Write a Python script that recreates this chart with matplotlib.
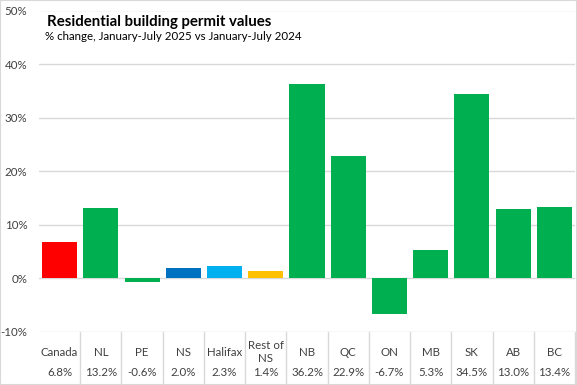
import matplotlib
matplotlib.use("Agg")
import matplotlib.pyplot as plt
from matplotlib import transforms
from matplotlib.lines import Line2D
from matplotlib.patches import Rectangle

plt.rcParams['font.family'] = ['Lato', 'DejaVu Sans']

regions = ["Canada", "NL", "PE", "NS", "Halifax", "Rest of\nNS", "NB", "QC",
           "ON", "MB", "SK", "AB", "BC"]
pct_change = [6.8, 13.2, -0.6, 2.0, 2.3, 1.4, 36.2, 22.9, -6.7, 5.3, 34.5, 13.0, 13.4]
bar_colors = ["#FF0000", "#00B050", "#00B050", "#0070C0", "#00B0F0", "#FFC000",
              "#00B050", "#00B050", "#00B050", "#00B050", "#00B050", "#00B050", "#00B050"]
yticks = [-10, 0, 10, 20, 30, 40, 50]

W, H = 577, 385
fig = plt.figure(figsize=(W / 100, H / 100), dpi=100)
ax = fig.add_axes([39 / W, 1 - 332 / H, (575 - 39) / W, (332 - 10.5) / H])

x = range(len(regions))
ax.bar(x, pct_change, width=0.85, color=bar_colors, zorder=3)

ax.set_xlim(-0.5, len(regions) - 0.5)
ax.set_ylim(-10, 50)
ax.set_yticks(yticks)
ax.set_yticklabels([f"{t}%" for t in yticks], fontsize=8.3, color="#404040")
ax.set_xticks([])
ax.grid(axis="y", color="#d9d9d9", linewidth=1, zorder=0)
ax.tick_params(axis="y", length=0, pad=8.5)
for s in ax.spines.values():
    s.set_visible(False)

# data table under the chart
trans = transforms.blended_transform_factory(ax.transData, fig.transFigure)
for i, (name, val) in enumerate(zip(regions, pct_change)):
    ax.text(i, 1 - 352 / H, name, transform=trans, ha="center", va="center",
            fontsize=8.3, color="#404040", linespacing=1.3)
    ax.text(i, 1 - 372 / H, f"{val:.1f}%", transform=trans, ha="center", va="center",
            fontsize=8.3, color="#404040")
for k in range(1, len(regions) + 1):
    fig.add_artist(Line2D([k - 0.5, k - 0.5], [1 - 332 / H, 0], transform=trans,
                          color="#d9d9d9", linewidth=1, clip_on=False))

fig.text(47 / W, 1 - 26 / H, "Residential building permit values", fontsize=10.8,
         fontweight="bold", ha="left", va="baseline")
fig.text(45 / W, 1 - 39.5 / H, "% change, January-July 2025 vs January-July 2024",
         fontsize=8.3, ha="left", va="baseline")

fig.add_artist(Rectangle((0, 0), 1, 1, transform=fig.transFigure, fill=False,
                         edgecolor="#d9d9d9", linewidth=1.5))

fig.savefig("out.png", dpi=100)
